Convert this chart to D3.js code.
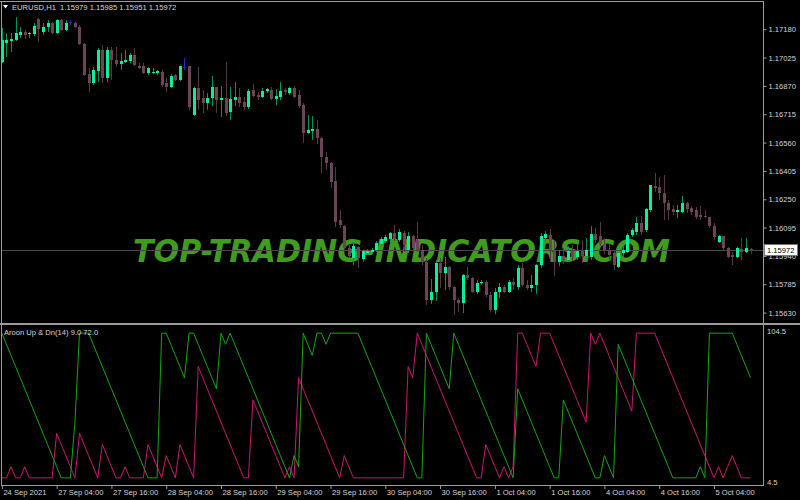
<!DOCTYPE html>
<html><head><meta charset="utf-8">
<script src="https://cdn.jsdelivr.net/npm/d3@7"></script>
<style>html,body{margin:0;padding:0;background:#000;overflow:hidden}</style>
</head><body>
<svg id="c" width="800" height="500"></svg>
<script>
// ---------- DATA ----------
const symbol = "EURUSD,H1";
const headerValues = [1.15979, 1.15985, 1.15951, 1.15972]; // O H L C of last bar
const currentPrice = 1.15972;
const opens = [
1.17001,1.17105,1.17116,1.17121,1.17149,1.17165,1.17154,1.17154,1.17236,1.17165,
1.17192,1.17214,1.17160,1.17231,1.17176,1.17220,1.17214,1.17192,1.17099,1.16935,
1.16886,1.16952,1.17067,1.16913,1.17067,1.17012,1.16990,1.17001,1.17006,1.17039,
1.16979,1.16979,1.16941,1.16941,1.16941,1.16946,1.16886,1.16864,1.16930,1.16902,
1.16974,1.16979,1.16711,1.16859,1.16804,1.16777,1.16804,1.16864,1.16793,1.16804,
1.16727,1.16793,1.16809,1.16782,1.16755,1.16848,1.16820,1.16809,1.16842,1.16848,
1.16798,1.16809,1.16848,1.16831,1.16859,1.16820,1.16766,1.16612,1.16623,1.16634,
1.16585,1.16481,1.16448,1.16350,1.16137,1.16104,1.15983,1.15929,1.15989,1.15923,
1.15956,1.15962,1.15973,1.16005,1.16022,1.16033,1.16066,1.16027,1.16066,1.15973,
1.16049,1.16027,1.15973,1.15907,1.15699,1.15743,1.15901,1.15847,1.15880,1.15770,
1.15699,1.15683,1.15836,1.15819,1.15743,1.15792,1.15797,1.15726,1.15644,1.15743,
1.15770,1.15743,1.15797,1.15770,1.15874,1.15781,1.15765,1.15781,1.15890,1.16038,
1.16055,1.15973,1.15907,1.15940,1.15918,1.15967,1.15934,1.15967,1.15940,1.15934,
1.16060,1.16049,1.16005,1.15973,1.15956,1.15880,1.15956,1.15962,1.16055,1.16071,
1.16120,1.16082,1.16191,1.16323,1.16317,1.16284,1.16230,1.16197,1.16180,1.16180,
1.16230,1.16202,1.16191,1.16164,1.16159,1.16153,1.16104,1.16016,1.16049,1.15983,
1.15945,1.15934,1.15978,1.15962,1.15979];
const highs = [
1.17187,1.17160,1.17160,1.17247,1.17192,1.17176,1.17165,1.17214,1.17242,1.17214,
1.17231,1.17220,1.17236,1.17236,1.17231,1.17231,1.17220,1.17203,1.17105,1.16968,
1.16974,1.17077,1.17094,1.17083,1.17083,1.17083,1.17050,1.17067,1.17050,1.17077,
1.16995,1.16995,1.16974,1.16968,1.16957,1.16957,1.16913,1.16935,1.16935,1.16979,
1.17023,1.16979,1.16864,1.16974,1.16848,1.16831,1.16924,1.16864,1.16870,1.17001,
1.16864,1.16891,1.16859,1.16809,1.16853,1.16880,1.16837,1.16859,1.16859,1.16864,
1.16853,1.16891,1.16859,1.16864,1.16870,1.16848,1.16777,1.16711,1.16705,1.16684,
1.16591,1.16509,1.16454,1.16427,1.16191,1.16109,1.16000,1.16016,1.15994,1.15973,
1.15978,1.15983,1.16022,1.16044,1.16055,1.16071,1.16109,1.16087,1.16076,1.16071,
1.16055,1.16126,1.16000,1.15929,1.15814,1.15918,1.15929,1.15934,1.15885,1.15776,
1.15710,1.15841,1.15880,1.15825,1.15808,1.15808,1.15808,1.15743,1.15765,1.15792,
1.15781,1.15808,1.15819,1.15890,1.15901,1.15808,1.15836,1.15896,1.16066,1.16076,
1.16087,1.16027,1.15973,1.15983,1.15994,1.16000,1.16005,1.16027,1.16038,1.16104,
1.16093,1.16126,1.16038,1.16005,1.15973,1.15962,1.15994,1.16066,1.16093,1.16153,
1.16159,1.16202,1.16328,1.16394,1.16372,1.16383,1.16246,1.16219,1.16219,1.16268,
1.16235,1.16213,1.16208,1.16213,1.16191,1.16153,1.16120,1.16055,1.16049,1.15989,
1.15962,1.15989,1.16038,1.16038,1.15985];
const lows = [
1.16995,1.17028,1.17056,1.17116,1.17132,1.17127,1.17132,1.17143,1.17110,1.17149,
1.17165,1.17154,1.17154,1.17170,1.17170,1.17203,1.17187,1.17094,1.16924,1.16837,
1.16875,1.16891,1.16886,1.16891,1.16902,1.16974,1.16957,1.16995,1.16995,1.16979,
1.16963,1.16935,1.16930,1.16935,1.16930,1.16864,1.16837,1.16859,1.16897,1.16897,
1.16957,1.16738,1.16705,1.16738,1.16722,1.16738,1.16760,1.16722,1.16700,1.16705,
1.16684,1.16760,1.16755,1.16738,1.16744,1.16809,1.16793,1.16804,1.16831,1.16793,
1.16766,1.16793,1.16820,1.16820,1.16804,1.16749,1.16558,1.16607,1.16574,1.16552,
1.16394,1.16410,1.16312,1.16098,1.16093,1.15967,1.15929,1.15890,1.15874,1.15907,
1.15945,1.15951,1.15962,1.15994,1.16011,1.16011,1.16022,1.16016,1.15962,1.15956,
1.15956,1.15962,1.15890,1.15672,1.15677,1.15693,1.15765,1.15754,1.15754,1.15617,
1.15633,1.15628,1.15808,1.15737,1.15732,1.15781,1.15715,1.15633,1.15622,1.15710,
1.15737,1.15737,1.15754,1.15754,1.15770,1.15754,1.15743,1.15732,1.15874,1.16016,
1.15907,1.15830,1.15885,1.15896,1.15907,1.15912,1.15918,1.15901,1.15923,1.15918,
1.16011,1.15994,1.15951,1.15918,1.15863,1.15874,1.15929,1.15956,1.16044,1.16055,
1.16055,1.16071,1.16180,1.16290,1.16246,1.16137,1.16137,1.16164,1.16148,1.16175,
1.16175,1.16164,1.16142,1.16137,1.16148,1.16093,1.16027,1.16011,1.15973,1.15929,
1.15890,1.15929,1.15918,1.15956,1.15951];
const closes = [
1.17121,1.17121,1.17127,1.17160,1.17165,1.17149,1.17160,1.17198,1.17181,1.17192,
1.17214,1.17160,1.17231,1.17176,1.17214,1.17220,1.17192,1.17099,1.16930,1.16886,
1.16957,1.17067,1.16913,1.17067,1.17012,1.16990,1.17006,1.17012,1.17039,1.16984,
1.16968,1.16941,1.16968,1.16946,1.16952,1.16875,1.16864,1.16924,1.16902,1.16979,
1.16974,1.16755,1.16859,1.16793,1.16777,1.16804,1.16864,1.16793,1.16804,1.16722,
1.16798,1.16809,1.16777,1.16755,1.16842,1.16815,1.16809,1.16842,1.16853,1.16798,
1.16815,1.16842,1.16837,1.16859,1.16809,1.16760,1.16612,1.16629,1.16634,1.16585,
1.16481,1.16448,1.16345,1.16126,1.16109,1.15983,1.15940,1.15994,1.15929,1.15967,
1.15967,1.15973,1.16011,1.16033,1.16044,1.16066,1.16033,1.16071,1.16000,1.16049,
1.15983,1.15973,1.15907,1.15699,1.15743,1.15901,1.15847,1.15880,1.15770,1.15699,
1.15683,1.15836,1.15819,1.15743,1.15792,1.15797,1.15726,1.15644,1.15743,1.15770,
1.15743,1.15797,1.15781,1.15874,1.15781,1.15765,1.15781,1.15890,1.16049,1.16060,
1.15973,1.15907,1.15940,1.15918,1.15967,1.15934,1.15967,1.15940,1.15973,1.16060,
1.16027,1.16005,1.15973,1.15945,1.15890,1.15956,1.15973,1.16055,1.16082,1.16120,
1.16071,1.16197,1.16328,1.16312,1.16284,1.16230,1.16191,1.16180,1.16191,1.16230,
1.16197,1.16180,1.16153,1.16153,1.16153,1.16104,1.16044,1.16049,1.15983,1.15934,
1.15934,1.15983,1.15962,1.15983,1.15972];
// Aroon Up (first buffer, crimson) and Aroon Down (second buffer, green)
const aroonUp = [
9,9,16,9,9,16,9,9,9,9,
9,9,37,30,23,16,9,37,30,23,
16,9,30,23,16,9,9,16,9,9,
9,9,30,23,16,9,23,16,9,30,
23,16,9,79,72,65,58,51,44,37,
30,23,16,9,9,58,51,44,37,30,
23,16,9,16,9,72,65,58,51,44,
37,30,23,16,9,23,16,9,9,9,
9,9,9,9,9,9,9,9,9,79,
72,100,93,86,79,72,65,58,51,44,
37,30,23,16,9,9,30,23,16,9,
16,9,16,100,100,93,86,79,100,100,
100,93,86,79,72,65,58,51,44,100,
93,100,93,86,79,72,65,58,51,100,
100,100,100,100,93,86,79,72,65,58,
51,44,37,30,23,16,9,16,9,16,
23,16,9,9,9];
const aroonDown = [
100,93,86,79,72,65,58,51,44,37,
30,23,16,9,9,9,44,100,100,100,
93,86,79,72,65,58,51,44,37,30,
23,16,9,9,9,100,100,93,86,79,
72,100,100,93,86,79,72,65,100,93,
100,93,86,79,72,65,58,51,44,37,
30,23,16,9,23,16,100,93,86,100,
100,93,100,100,100,100,100,100,100,93,
86,79,72,65,58,51,44,37,30,23,
16,9,9,100,93,86,79,72,65,100,
93,86,79,72,65,58,51,44,37,30,
23,16,9,65,58,51,44,37,30,23,
16,9,9,58,51,44,37,30,23,16,
9,9,23,16,9,93,86,79,72,65,
58,51,44,37,30,23,16,9,9,9,
9,9,9,16,9,100,100,100,100,100,
100,93,86,79,72];
const aroonLegend = "Aroon Up & Dn(14) 9.0 72.0";
const priceTicks = [1.17180,1.17025,1.16870,1.16715,1.16560,1.16405,1.16250,1.16095,1.15940,1.15785,1.15630];
const aroonScaleLabels = [104.5, 4.5];
const timeTickIndex = [0,12,24,36,48,60,72,84,96,108,120,132,144,156];
const timeTickLabels = ["24 Sep 2021","27 Sep 04:00","27 Sep 16:00","28 Sep 04:00","28 Sep 16:00","29 Sep 04:00","29 Sep 16:00","30 Sep 04:00","30 Sep 16:00","1 Oct 04:00","1 Oct 16:00","4 Oct 04:00","4 Oct 16:00","5 Oct 04:00"];
const watermark = "TOP-TRADING-INDICATORS.COM";

// ---------- STYLE ----------
const C = {
  bg:"#000", frame:"#9c9c9c", text:"#d6d6d6",
  bullBody:"#00f39b", bullWick:"#00925c",
  bearBody:"#6b4557", bearWick:"#573646",
  doji:"#2828c8", priceLine:"#4d4249",
  up:"#c8186c", down:"#14a514", mark:"#3f9c1e"
};
const font = "'Liberation Sans', Arial, sans-serif";
const axisX = 763;

const svg = d3.select("#c");
svg.append("rect").attr("width",800).attr("height",500).attr("fill",C.bg);

const n = closes.length;
const x = d3.scaleLinear().domain([0, n-1]).range([1.9, 750.5]);
const y = d3.scaleLinear().domain([1.15573, 1.17340]).range([323, 0]);
const ya = d3.scaleLinear().domain([4.5, 104.5]).range([485, 326]);

const defs = svg.append("defs");
defs.append("clipPath").attr("id","cm").append("rect").attr("x",2).attr("y",2).attr("width",axisX-2).attr("height",321);
defs.append("clipPath").attr("id","ca").append("rect").attr("x",2).attr("y",325.5).attr("width",axisX-2).attr("height",160);

// ---------- MAIN PANE ----------
const main = svg.append("g").attr("clip-path","url(#cm)");

// watermark (behind candles)
main.append("text").attr("x",133).attr("y",261.5)
  .attr("font-family","'DejaVu Sans', sans-serif").attr("font-weight","bold").attr("font-style","italic")
  .attr("font-size",32).attr("textLength",537).attr("lengthAdjust","spacingAndGlyphs")
  .attr("fill",C.mark).text(watermark);

// bid line
main.append("line").attr("x1",0).attr("x2",axisX).attr("y1",Math.round(y(currentPrice))+0.5).attr("y2",Math.round(y(currentPrice))+0.5)
  .attr("stroke",C.priceLine).attr("stroke-width",1);

const idx = d3.range(n);
const cg = main.append("g").attr("shape-rendering","crispEdges");
const kind = i => closes[i] > opens[i] ? "bull" : (closes[i] < opens[i] ? "bear" : "doji");
cg.selectAll("line.w").data(idx).join("line").attr("class","w")
  .attr("x1",i=>Math.round(x(i))+0.5).attr("x2",i=>Math.round(x(i))+0.5)
  .attr("y1",i=>y(highs[i])).attr("y2",i=>y(lows[i]))
  .attr("stroke",i=>kind(i)==="bull"?C.bullWick:kind(i)==="bear"?C.bearWick:C.doji).attr("stroke-width",1);
cg.selectAll("rect.b").data(idx).join("rect").attr("class","b")
  .attr("x",i=>Math.round(x(i))-1).attr("width",3)
  .attr("y",i=>Math.min(y(opens[i]),y(closes[i])))
  .attr("height",i=>Math.max(1,Math.abs(y(opens[i])-y(closes[i]))))
  .attr("fill",i=>kind(i)==="bull"?C.bullBody:kind(i)==="bear"?C.bearBody:C.doji);

// header
svg.append("path").attr("d","M3,5 L8,5 L5.5,8.5 Z").attr("fill","#fff");
svg.append("text").attr("x",12).attr("y",10).attr("font-family",font).attr("font-size",7.6)
  .attr("fill",C.text).style("white-space","pre")
  .text(symbol + "  " + headerValues.map(d=>d.toFixed(5)).join(" "));

// price axis
const pAxis = d3.axisRight(y).tickValues(priceTicks).tickFormat(d3.format(".5f")).tickSize(3).tickSizeOuter(0).tickPadding(2);
const pa = svg.append("g").attr("transform",`translate(${axisX+0.5},0)`).call(pAxis);
pa.select(".domain").remove();
pa.selectAll("line").attr("stroke",C.frame);
pa.selectAll("text").attr("fill",C.text).attr("font-family",font).attr("font-size",7.6);

// current price label
const cy = y(currentPrice);
svg.append("rect").attr("x",764.5).attr("y",cy-5.5).attr("width",33).attr("height",11)
  .attr("fill","#fff").attr("stroke","#777").attr("stroke-width",1);
svg.append("text").attr("x",767).attr("y",cy+3).attr("font-family",font).attr("font-size",7.6)
  .attr("fill","#000").text(currentPrice.toFixed(5));

// ---------- AROON PANE ----------
const ag = svg.append("g").attr("clip-path","url(#ca)");
const line = d3.line().x((d,i)=>x(i)).y(d=>ya(d));
ag.append("path").datum(aroonUp).attr("d",line).attr("fill","none").attr("stroke",C.up).attr("stroke-width",1);
ag.append("path").datum(aroonDown).attr("d",line).attr("fill","none").attr("stroke",C.down).attr("stroke-width",1);

svg.append("text").attr("x",4).attr("y",335).attr("font-family",font).attr("font-size",7.6)
  .attr("fill",C.text).text(aroonLegend);

svg.append("text").attr("x",767).attr("y",ya(aroonScaleLabels[0])+7.5).attr("font-family",font).attr("font-size",7.6)
  .attr("fill",C.text).text(aroonScaleLabels[0].toFixed(1));
svg.append("text").attr("x",767).attr("y",ya(aroonScaleLabels[1])-0.5).attr("font-family",font).attr("font-size",7.6)
  .attr("fill",C.text).text(aroonScaleLabels[1].toFixed(1));

// time axis
const tAxis = d3.axisBottom(x).tickValues(timeTickIndex).tickFormat((d,i)=>timeTickLabels[i]).tickSize(3).tickSizeOuter(0).tickPadding(1);
const ta = svg.append("g").attr("transform","translate(0,486)").call(tAxis);
ta.select(".domain").remove();
ta.selectAll("line").attr("stroke",C.frame);
ta.selectAll("text").attr("fill",C.text).attr("font-family",font).attr("font-size",7.6)
  .attr("text-anchor","start").attr("x",1);

// ---------- FRAMES ----------
const fr = svg.append("g").attr("stroke",C.frame).attr("fill","none").attr("shape-rendering","crispEdges");
fr.append("line").attr("x1",0).attr("x2",axisX).attr("y1",1.5).attr("y2",1.5);
fr.append("line").attr("x1",1.5).attr("x2",1.5).attr("y1",1).attr("y2",486);
fr.append("line").attr("x1",axisX+0.5).attr("x2",axisX+0.5).attr("y1",1).attr("y2",486);
fr.append("rect").attr("x",0).attr("y",323).attr("width",800).attr("height",2).attr("fill",C.frame).attr("stroke","none");
fr.append("line").attr("x1",1).attr("x2",axisX).attr("y1",485.5).attr("y2",485.5);
</script>
</body></html>
